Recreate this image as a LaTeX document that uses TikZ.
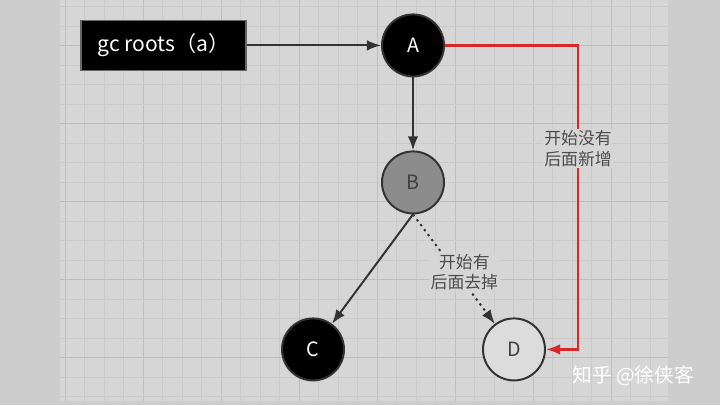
\documentclass[tikz,border=0pt]{standalone}
\usepackage{fontspec}
\setmainfont{Noto Sans CJK SC}
\usepackage{xcolor}
\usepackage{tikz}
\usetikzlibrary{arrows,arrows.meta}
\usetikzlibrary{calc}
\definecolor{paper}{HTML}{CDCDCD}
\definecolor{sheet}{HTML}{D6D6D6}
\definecolor{gridminor}{HTML}{CACACA}
\definecolor{gridmajor}{HTML}{BEBEBE}
\definecolor{grayobj}{HTML}{8C8C8C}
\definecolor{whiteobj}{HTML}{DCDCDC}
\definecolor{newref}{HTML}{D42A2A}

\begin{document}
\begin{tikzpicture}
              \tikzset{>={Latex[length=10pt,width=7.5pt]}}
              \tikzstyle{obj}=[circle,draw=black!80,line width=1.4pt,minimum size=1.55cm,inner sep=0pt,font=\fontsize{14}{16}\selectfont]
              \tikzstyle{ref}=[->,black!80,line width=1.4pt]
              \tikzstyle{note}=[fill=sheet,text=black!70,align=center,inner sep=1pt,font=\fontsize{12}{14.5}\selectfont]

              % BACKGROUND
              \fill[paper] (0,0) rectangle (18,10.125);
              \fill[sheet] (1.5,0.1) rectangle (16.7,10.125);
              \foreach \i in {0,...,31}{
                \pgfmathsetmacro{\gx}{1.625+\i*0.4875}
                \pgfmathtruncatemacro{\major}{mod(\i,4)==0}
                \ifnum\major=1
                  \draw[gridmajor,line width=0.6pt] (\gx,0.1) -- (\gx,10.125);
                \else
                  \draw[gridminor,line width=0.4pt] (\gx,0.1) -- (\gx,10.125);
                \fi
              }
              \foreach \k in {0,...,20}{
                \pgfmathsetmacro{\gy}{0.225+\k*0.4875}
                \pgfmathtruncatemacro{\major}{mod(\k,4)==2}
                \ifnum\major=1
                  \draw[gridmajor,line width=0.6pt] (1.5,\gy) -- (16.7,\gy);
                \else
                  \draw[gridminor,line width=0.4pt] (1.5,\gy) -- (16.7,\gy);
                \fi
              }

              % OBJECTS
              \node[draw=black!60,line width=0.8pt,fill=black,text=white,minimum width=4.125cm,minimum height=1.25cm,
                font=\fontsize{15}{17}\selectfont] (roots) at (4.0875,9) {gc roots（a）};
              \node[obj,fill=black,text=white] (A) at (10.325,9) {A};
              \node[obj,fill=grayobj,text=black!75] (B) at (10.325,5.575) {B};
              \node[obj,fill=black,text=white] (C) at (7.825,1.4) {C};
              \node[obj,fill=whiteobj,text=black!75] (D) at (12.85,1.4) {D};
              \coordinate (bend) at (14.45,9);
              \coordinate (corner) at (14.45,1.4);

              % REFERENCES
              \draw[ref] (roots) -- (A);
              \draw[ref] (A) -- (B);
              \draw[ref] (B.south) -- (C);
              \draw[ref,dash pattern=on 1.6pt off 2.8pt] (B.south) -- (D) node[note,pos=0.53,xshift=0.2cm]{开始有\\后面去掉};
              \draw[->,newref,line width=1.6pt] (A) -- (bend) -- node[note,pos=0.34]{开始没有\\后面新增} (corner) -- (D);

              \node[text=white,font=\fontsize{14}{16}\selectfont] (mark) at (15.83,0.75) {知乎 @徐侠客};
            \end{tikzpicture}
\end{document}
